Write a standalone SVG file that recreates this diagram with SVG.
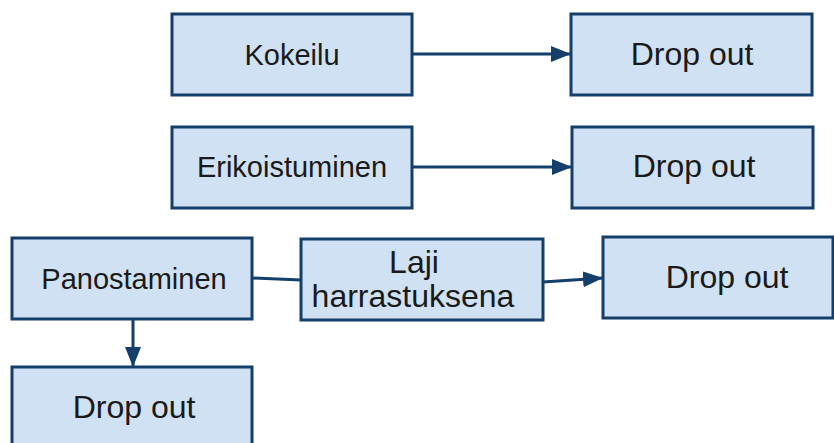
<svg xmlns="http://www.w3.org/2000/svg" width="834" height="443" viewBox="0 0 834 443">
  <style>
    .box { fill: #cfe1f2; stroke: #153f6b; stroke-width: 3; }
    .lbl { font-family: "Liberation Sans", Arial, sans-serif; font-size: 29px; fill: #1a1a1a; text-anchor: middle; }
    .big { font-size: 32px; }
    .link { fill: none; stroke: #153f6b; stroke-width: 3; }
  </style>
  <defs>
    <marker id="arrow" markerUnits="userSpaceOnUse" markerWidth="22" markerHeight="18" refX="20" refY="8" orient="auto">
      <path d="M0,0 L20,8 L0,16 Z" fill="#153f6b"/>
    </marker>
  </defs>
  <rect width="834" height="443" fill="#ffffff"/>

  <g id="connectors">
    <line class="link" x1="412" y1="54" x2="571" y2="54" marker-end="url(#arrow)"/>
    <line class="link" x1="412" y1="167" x2="572" y2="167" marker-end="url(#arrow)"/>
    <line class="link" x1="252" y1="278" x2="301" y2="280"/>
    <line class="link" x1="543" y1="282" x2="603" y2="278" marker-end="url(#arrow)"/>
    <line class="link" x1="133" y1="319" x2="133" y2="367" marker-end="url(#arrow)"/>
  </g>

  <g id="kokeilu">
    <rect class="box" x="172" y="14" width="240" height="81"/>
    <text class="lbl" x="292" y="65">Kokeilu</text>
  </g>
  <g id="dropout-1">
    <rect class="box" x="571" y="14" width="241" height="81"/>
    <text class="lbl big" x="692" y="65">Drop out</text>
  </g>

  <g id="erikoistuminen">
    <rect class="box" x="172" y="127" width="240" height="81"/>
    <text class="lbl" x="292" y="177">Erikoistuminen</text>
  </g>
  <g id="dropout-2">
    <rect class="box" x="572" y="127" width="241" height="81"/>
    <text class="lbl big" x="694" y="177">Drop out</text>
  </g>

  <g id="panostaminen">
    <rect class="box" x="12" y="238" width="240" height="81"/>
    <text class="lbl" x="134" y="289">Panostaminen</text>
  </g>
  <g id="laji-harrastuksena">
    <rect class="box" x="301" y="239" width="242" height="81"/>
    <text class="lbl big" x="414" y="273">Laji</text>
    <text class="lbl big" x="413" y="307">harrastuksena</text>
  </g>
  <g id="dropout-3">
    <rect class="box" x="603" y="237" width="230" height="81"/>
    <text class="lbl big" x="727" y="288">Drop out</text>
  </g>
  <g id="dropout-4">
    <rect class="box" x="12" y="367" width="240" height="81"/>
    <text class="lbl big" x="134" y="418">Drop out</text>
  </g>
</svg>
